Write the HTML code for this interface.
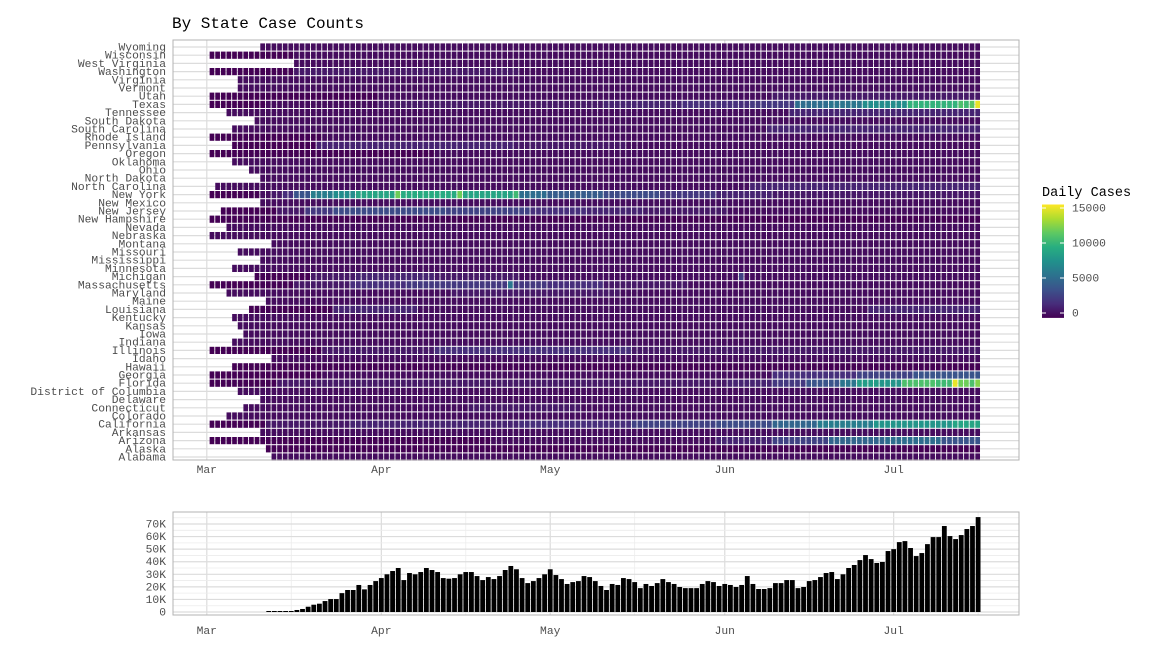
<!DOCTYPE html>
<html><head><meta charset="utf-8"><style>
html,body{margin:0;padding:0;background:#fff;}
svg{display:block;font-family:"Liberation Mono",monospace;}
</style></head><body>
<svg id="chart" width="1152" height="670" viewBox="0 0 1152 670">
<text x="172" y="28" font-size="16" fill="#000">By State Case Counts</text>
<g id="heatGrid"></g>
<g id="heat"></g>
<rect x="173" y="40" width="846" height="420" fill="none" stroke="#b3b3b3"/>
<g id="stateLabels"></g>
<g id="heatX"></g>
<g id="legend"></g>
<g id="barGrid"></g>
<g id="bars"></g>
<rect x="173" y="512" width="846" height="103" fill="none" stroke="#b3b3b3"/>
<g id="barY"></g>
<g id="barX"></g>
</svg>
<script>
const states = ["Wyoming","Wisconsin","West Virginia","Washington","Virginia","Vermont","Utah","Texas","Tennessee","South Dakota","South Carolina","Rhode Island","Pennsylvania","Oregon","Oklahoma","Ohio","North Dakota","North Carolina","New York","New Mexico","New Jersey","New Hampshire","Nevada","Nebraska","Montana","Missouri","Mississippi","Minnesota","Michigan","Massachusetts","Maryland","Maine","Louisiana","Kentucky","Kansas","Iowa","Indiana","Illinois","Idaho","Hawaii","Georgia","Florida","District of Columbia","Delaware","Connecticut","Colorado","California","Arkansas","Arizona","Alaska","Alabama"];
// run-length encoded daily cases per state; level char base36 * 500 cases; '.' = no data; 137 days from Mar 2
const stateRuns = [
".x9 1x128","0x15 1x122",".x15 1x122","0x15 2x40 1x82",".x5 1x132",".x5 1x132","0x30 1x70 2x37","0x10 1x20 2x40 3x14 4x12 5x8 bx6 cx6 fx8 kx9 mx1 lx1 nx1 ux1",
".x3 1x100 3x34",".x8 1x129",".x4 1x95 3x38","0x20 1x117",".x4 0x15 3x35 2x20 1x63","0x40 1x97",".x4 1x133",".x7 1x130",
".x9 1x128",".x1 1x95 3x41","0x9 1x2 2x2 4x2 8x3 dx4 fx4 ix7 ox1 jx10 ox1 ix9 lx1 bx5 9x10 7x10 5x10 3x10 2x37",".x9 1x128",".x2 0x10 2x5 5x5 7x20 6x15 4x10 3x10 2x15 1x45","0x137",".x3 1x134","1x137",
".x11 1x126",".x5 1x132",".x9 1x128",".x4 1x133",".x8 0x10 2x8 3x14 2x15 1x39 6x1 1x42","0x15 2x10 4x10 5x18 cx1 5x6 4x10 2x15 1x52",".x3 1x40 2x30 1x64",".x10 1x127",
".x7 0x15 3x15 1x80 3x20",".x4 1x133",".x5 1x132",".x6 1x131",".x4 1x133","0x20 2x20 4x35 2x62",".x11 1x126",".x4 0x133",
"0x20 1x80 4x15 6x10 8x12","0x12 2x80 3x8 5x6 8x6 cx3 hx4 gx4 mx6 lx3 ux1 ox2 mx1 px1",".x5 1x132",".x9 1x128",".x6 1x40 2x20 1x71",".x3 1x134","0x10 2x15 3x30 4x20 6x15 7x10 ax8 dx10 gx14 ix5",".x9 1x128",
"0x50 1x40 3x10 6x10 ax10 bx10 8x7",".x10 0x127",".x11 1x126"];
// total daily cases, thousands, days 11..137 after Mar 1
const barStartDay = 11;
const totalCasesK = [0.8,0.8,0.8,0.8,0.8,1.6,2.4,4.2,5.8,6.6,8.7,10.3,10.3,15,17.5,17.5,21.5,18,21.5,24.6,27,30,32.6,35,25.4,31,30,31.8,35,33.4,31.8,27,26.5,27,30,31.8,31.8,28.6,25.4,27.8,26.2,28.6,33.4,36.6,34,27,23,24.6,27,30,34,29.4,26.2,22.3,23.8,24.6,28.6,27.8,24.6,20.7,17.5,22.3,21.5,27,26.2,23.8,19,22.3,20.7,23,26.2,23.8,22.3,19.9,19,19,19,22.3,24.6,23.8,20.7,22.3,21.5,19.9,21.5,28.6,22.3,18.3,18.3,19,23,23,25.4,25.4,19,19.9,24.6,25.4,27.8,31,31.8,26.2,30,35,37.4,41.3,45.3,42.1,39,39.8,48.5,50,55.6,56.4,50.9,44.5,46.9,54,59.6,59.6,68.4,60.4,58,61.2,66,68.4,75.5];
const monthLabels = ["Mar","Apr","May","Jun","Jul"];
const monthDays = [0,31,61,92,122];
const barTicksK = [0,10,20,30,40,50,60,70];
const legendTicks = [0,5000,10000,15000];

const NS="http://www.w3.org/2000/svg";
function mk(tag, attrs, parent){const e=document.createElementNS(NS,tag);for(const k in attrs)e.setAttribute(k,attrs[k]);parent.appendChild(e);return e;}
const xDay = d => 206.8 + 5.63*d;
const rowY = i => 47 + 8.2*i;
const yBar = k => 612 - 1.257*k;
const VIR=["#440154","#472d7b","#3b528b","#2c728e","#21918c","#28ae80","#5ec962","#addc30","#fde725"];
function hex(h){return [1,3,5].map(i=>parseInt(h.substr(i,2),16));}
function vir(v){let t=Math.max(0,Math.min(1,v/15500))*(VIR.length-1);const i=Math.min(VIR.length-2,Math.floor(t));const f=t-i;const a=hex(VIR[i]),b=hex(VIR[i+1]);return "rgb("+a.map((c,j)=>Math.round(c+(b[j]-c)*f)).join(",")+")";}
function decode(s){const out=[];s.split(" ").forEach(tok=>{const c=tok[0];const n=parseInt(tok.slice(2));for(let i=0;i<n;i++)out.push(c==="."?null:parseInt(c,36)*500);});return out;}

const hg=document.getElementById("heatGrid");
[-15,15,46,76,107,137].forEach(d=>{const x=xDay(d);if(x>173&&x<1019)mk("line",{x1:x,x2:x,y1:40,y2:460,stroke:"#ececec","stroke-width":0.8},hg);});
monthDays.forEach(d=>{const x=xDay(d);mk("line",{x1:x,x2:x,y1:40,y2:460,stroke:"#dcdcdc","stroke-width":1.2},hg);});
states.forEach((s,i)=>{mk("line",{x1:173,x2:1019,y1:rowY(i),y2:rowY(i),stroke:"#dcdcdc","stroke-width":1.2},hg);});

const heat=document.getElementById("heat");
const sl=document.getElementById("stateLabels");
states.forEach((s,i)=>{
  const vals=decode(stateRuns[i]);
  vals.forEach((v,k)=>{
    if(v===null)return;
    const d=k+1;
    const r=mk("rect",{x:(xDay(d)-2.8).toFixed(2),y:(rowY(i)-3.6).toFixed(2),width:4.7,height:7.2,fill:vir(v)},heat);
    
    
  });
  const t=mk("text",{x:166,y:rowY(i)+3.5,"text-anchor":"end","font-size":"11.3",fill:"#4d4d4d"},sl);
  t.textContent=s;
  
  
});

const hx=document.getElementById("heatX"), bx=document.getElementById("barX");
monthLabels.forEach((m,i)=>{
  const x=xDay(monthDays[i]);
  const t1=mk("text",{x:x,y:473,"text-anchor":"middle","font-size":"11.3",fill:"#4d4d4d"},hx);t1.textContent=m;
  
  
  const t2=mk("text",{x:x,y:634,"text-anchor":"middle","font-size":"11.3",fill:"#4d4d4d"},bx);t2.textContent=m;
  
  
});

const bg=document.getElementById("barGrid");
[-15,15,46,76,107,137].forEach(d=>{const x=xDay(d);if(x>173&&x<1019)mk("line",{x1:x,x2:x,y1:512,y2:615,stroke:"#ececec","stroke-width":0.8},bg);});
monthDays.forEach(d=>{const x=xDay(d);mk("line",{x1:x,x2:x,y1:512,y2:615,stroke:"#dcdcdc","stroke-width":1.2},bg);});
const by=document.getElementById("barY");
barTicksK.forEach(k=>{
  mk("line",{x1:173,x2:1019,y1:yBar(k),y2:yBar(k),stroke:"#dcdcdc","stroke-width":1.2},bg);
  mk("line",{x1:173,x2:1019,y1:yBar(k+5),y2:yBar(k+5),stroke:"#ececec","stroke-width":0.8},bg);
  const t=mk("text",{x:166,y:yBar(k)+3.5,"text-anchor":"end","font-size":"11.3",fill:"#4d4d4d"},by);
  t.textContent=k===0?"0":k+"K";
  
  
});
const bars=document.getElementById("bars");
totalCasesK.forEach((k,i)=>{
  const d=barStartDay+i;
  const r=mk("rect",{x:(xDay(d)-2.4).toFixed(2),y:yBar(k).toFixed(2),width:4.8,height:(612-yBar(k)).toFixed(2),fill:"#000"},bars);
  
  
});

const lg=document.getElementById("legend");
const lt=mk("text",{x:1042,y:196,"font-size":"13.5",fill:"#000"},lg);lt.textContent="Daily Cases";


const defs=mk("defs",{},lg);
const grad=mk("linearGradient",{id:"vg",x1:0,y1:1,x2:0,y2:0},defs);
VIR.forEach((c,i)=>mk("stop",{offset:i/(VIR.length-1),"stop-color":c},grad));
const yLeg=v=>313-v*35/5000;
const cb=mk("rect",{x:1042,y:yLeg(15500),width:22,height:yLeg(-700)-yLeg(15500),fill:"url(#vg)"},lg);


legendTicks.forEach(v=>{
  mk("line",{x1:1042,x2:1046,y1:yLeg(v),y2:yLeg(v),stroke:"#fff"},lg);
  mk("line",{x1:1060,x2:1064,y1:yLeg(v),y2:yLeg(v),stroke:"#fff"},lg);
  const t=mk("text",{x:1072,y:yLeg(v)+3.5,"font-size":"11.3",fill:"#4d4d4d"},lg);t.textContent=v;
  
  
});
</script>
</body></html>
